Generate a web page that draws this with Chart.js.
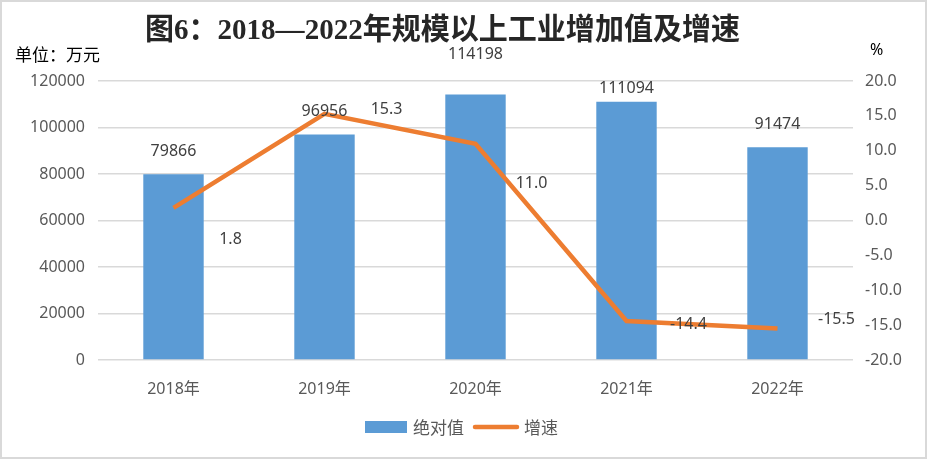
<!DOCTYPE html>
<html>
<head>
<meta charset="utf-8">
<script src="https://cdn.jsdelivr.net/npm/chart.js@4/dist/chart.umd.min.js"></script>
<style>
  body { margin: 0; background: #fff; }
  #wrap { width: 927px; height: 459px; position: relative; }
</style>
</head>
<body>
<div id="wrap"><canvas id="chart"></canvas></div>
<script>
// data
const years = ['2018年', '2019年', '2020年', '2021年', '2022年'];
const absValues = [79866, 96956, 114198, 111094, 91474];
const growthRates = [1.8, 15.3, 11.0, -14.4, -15.5];
const leftTicks = [0, 20000, 40000, 60000, 80000, 100000, 120000];
const rightTicks = [-20, -15, -10, -5, 0, 5, 10, 15, 20];

// label placement (pixels, hand tuned to the reference)
const barLabelLift = [23, 23, 40, 13, 23];
const lineLabelShift = [[57, 31], [62, -4], [56, 40], [62, 3], [59, -9]];

const BLUE = '#5B9BD5';
const ORANGE = '#ED7D31';
const NUM_FONT = '"Noto Sans", "Noto Sans CJK SC", sans-serif';
const CJK_FONT = '"Noto Sans CJK SC", sans-serif';

const decorPlugin = {
    id: 'decor',
    beforeDraw(chart) {
        const ctx = chart.ctx;
        ctx.save();
        ctx.fillStyle = '#fff';
        ctx.fillRect(0, 0, chart.width, chart.height);
        ctx.strokeStyle = '#D9D9D9';
        ctx.lineWidth = 2;
        ctx.strokeRect(1, 1, chart.width - 2, chart.height - 2);
        ctx.restore();
    },
    afterDraw(chart) {
        const ctx = chart.ctx;
        ctx.save();
        // title, squeezed to the width seen in the picture
        const title = '图6：2018—2022年规模以上工业增加值及增速';
        ctx.font = 'bold 30px "Liberation Serif", "Noto Sans CJK SC", serif';
        ctx.fillStyle = '#262626';
        ctx.textBaseline = 'middle';
        const w = ctx.measureText(title).width;
        const target = 595;
        ctx.translate(145, 31);
        ctx.scale(target / w, 1);
        ctx.textAlign = 'left';
        ctx.fillText(title, 0, 0);
        ctx.restore();

        ctx.save();
        ctx.fillStyle = '#000';
        ctx.textBaseline = 'middle';
        ctx.font = '17px ' + CJK_FONT;
        ctx.textAlign = 'left';
        ctx.fillText('单位：万元', 15, 55);
        ctx.font = '16px ' + NUM_FONT;
        ctx.fillText('%', 870, 50);

        // legend
        const ds = chart.data.datasets;
        const bar = ds.find(d => d.type === 'bar');
        const line = ds.find(d => d.type === 'line');
        ctx.fillStyle = bar.backgroundColor;
        ctx.fillRect(365, 421, 42, 12);
        ctx.font = '17px ' + CJK_FONT;
        ctx.fillStyle = '#595959';
        ctx.fillText(bar.label, 413, 428);
        ctx.strokeStyle = line.borderColor;
        ctx.lineWidth = 4.5;
        ctx.lineCap = 'round';
        ctx.beginPath();
        ctx.moveTo(475, 427);
        ctx.lineTo(517, 427);
        ctx.stroke();
        ctx.fillText(line.label, 524, 428);
        ctx.restore();
    },
    afterDatasetsDraw(chart) {
        const ctx = chart.ctx;
        ctx.save();
        ctx.font = '16px ' + NUM_FONT;
        ctx.fillStyle = '#404040';
        ctx.textAlign = 'center';
        ctx.textBaseline = 'middle';
        chart.data.datasets.forEach((ds, di) => {
            const meta = chart.getDatasetMeta(di);
            meta.data.forEach((el, i) => {
                if (ds.type === 'bar') {
                    ctx.fillText(String(ds.data[i]), el.x, el.y - barLabelLift[i]);
                } else {
                    const s = lineLabelShift[i];
                    ctx.fillText(ds.data[i].toFixed(1), el.x + s[0], el.y + s[1]);
                }
            });
        });
        ctx.restore();
    }
};

const ctx = document.getElementById('chart').getContext('2d');
new Chart(ctx, {
    data: {
        labels: years,
        datasets: [
            {
                type: 'line',
                label: '增速',
                data: growthRates,
                borderColor: ORANGE,
                backgroundColor: ORANGE,
                borderWidth: 4.5,
                pointRadius: 0,
                tension: 0,
                yAxisID: 'y1',
                order: 0
            },
            {
                type: 'bar',
                label: '绝对值',
                data: absValues,
                backgroundColor: BLUE,
                categoryPercentage: 1,
                barPercentage: 0.4,
                yAxisID: 'y',
                order: 1
            }
        ]
    },
    options: {
        responsive: true,
        maintainAspectRatio: false,
        animation: false,
        layout: { padding: { top: 81, left: 0, right: 0, bottom: 0 } },
        plugins: {
            legend: { display: false },
            title: { display: false },
            tooltip: { enabled: false }
        },
        scales: {
            x: {
                grid: { display: false },
                border: { display: false },
                ticks: { color: '#595959', font: { family: NUM_FONT, size: 16 }, padding: 12 },
                afterFit: (s) => { s.height = 99; }
            },
            y: {
                position: 'left',
                min: leftTicks[0],
                max: leftTicks[leftTicks.length - 1],
                afterBuildTicks: (s) => { s.ticks = leftTicks.map(v => ({ value: v })); },
                grid: { color: '#D9D9D9', lineWidth: 1.5, drawTicks: false },
                border: { display: false },
                ticks: {
                    color: '#595959',
                    font: { family: NUM_FONT, size: 16 },
                    padding: 13,
                    callback: (v) => String(v)
                },
                afterFit: (s) => { s.width = 98; }
            },
            y1: {
                position: 'right',
                min: rightTicks[0],
                max: rightTicks[rightTicks.length - 1],
                afterBuildTicks: (s) => { s.ticks = rightTicks.map(v => ({ value: v })); },
                grid: { display: false, drawTicks: false },
                border: { display: false },
                ticks: {
                    color: '#595959',
                    font: { family: NUM_FONT, size: 16 },
                    padding: 12,
                    callback: (v) => Number(v).toFixed(1)
                },
                afterFit: (s) => { s.width = 74; }
            }
        }
    },
    plugins: [decorPlugin]
});
</script>
</body>
</html>
